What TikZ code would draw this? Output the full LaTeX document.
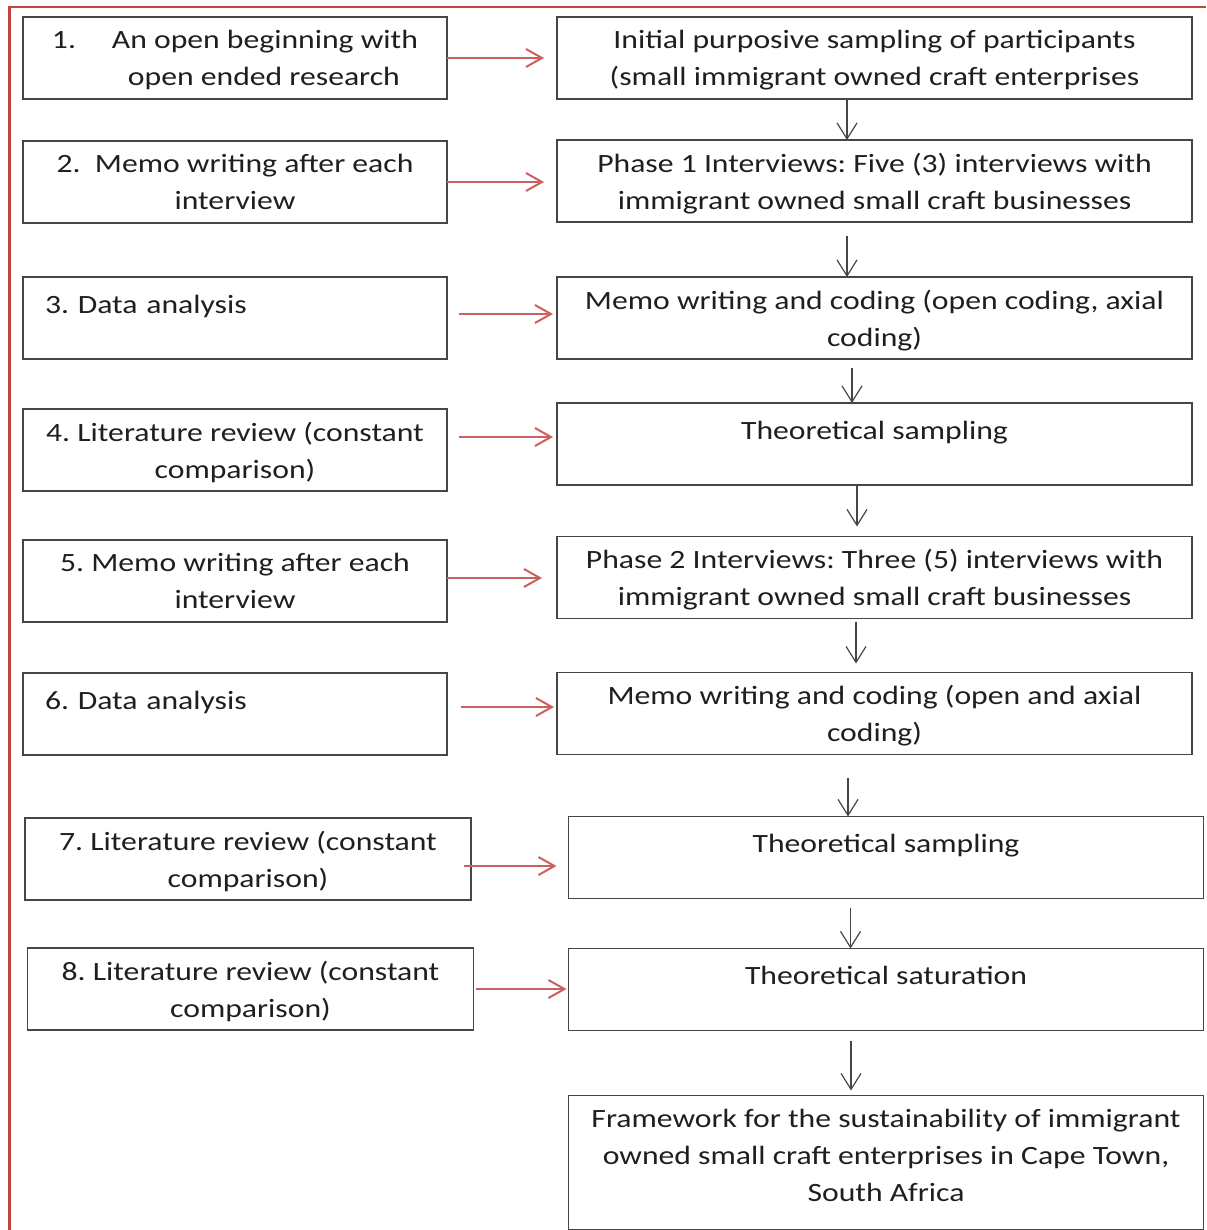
\documentclass[tikz,border=0pt]{standalone}
\usepackage{fontspec}
\setmainfont{Carlito}[FakeStretch=1.2]
\usepackage{xcolor}
\usepackage{tikz}
\usetikzlibrary{arrows.meta, positioning}
\definecolor{framered}{RGB}{196,66,62}
\definecolor{arrred}{RGB}{204,96,94}
\definecolor{boxgray}{RGB}{70,70,70}
\frenchspacing

\begin{document}
\begin{tikzpicture}[
  lbox/.style={draw=boxgray, line width=0.8pt, align=center, text=black!88,
              font=\fontsize{13.2}{18.5}\selectfont, text depth=0pt,
              minimum width=212pt, minimum height=41pt, inner sep=0pt, outer sep=0pt},
  rbox/.style={lbox, minimum width=317.5pt},
  oneline/.style={text depth=14pt},
  redarr/.style={draw=arrred, line width=1pt, -{Straight Barb[length=8pt,width=9pt]}},
  darr/.style={draw=boxgray, line width=0.6pt, -{Straight Barb[length=8pt,width=10pt]}}]
\path[use as bounding box, fill=white] (0,0) rectangle (603pt,-615pt);
\draw[framered, line width=1.2pt] (4.7pt,-615pt) -- (4.7pt,-3.4pt) -- (603pt,-3.4pt);

\node[lbox, align=left] (l1) at (117.5pt,-29pt) {\makebox[30pt][l]{1.}An open beginning with\\\hspace*{38pt}open ended research};
\node[lbox, below=21pt of l1] (l2) {2.\ \ Memo writing after each\\interview};
\node[lbox, oneline, below=27pt of l2, align=left, text width=190pt] (l3) {3. Data analysis};
\node[lbox, below=25pt of l3] (l4) {4. Literature review (constant\\comparison)};
\node[lbox, below=24.5pt of l4] (l5) {5. Memo writing after each\\interview};
\node[lbox, oneline, below=25.5pt of l5, align=left, text width=190pt] (l6) {6. Data analysis};
\node[lbox, below=31.5pt of l6, minimum width=223pt, xshift=6.5pt] (l7) {7. Literature review (constant\\comparison)};
\node[lbox, below=24pt of l7, minimum width=223pt, xshift=1.25pt] (l8) {8. Literature review (constant\\comparison)};

\node[rbox] (r1) at (437.25pt,-29pt) {Initial purposive sampling of participants\\(small immigrant owned craft enterprises};
\node[rbox, below=20.5pt of r1] (r2) {Phase 1 Interviews: Five (3) interviews with\\immigrant owned small craft businesses};
\node[rbox, below=27.5pt of r2] (r3) {Memo writing and coding (open coding, axial\\coding)};
\node[rbox, oneline, below=22pt of r3] (r4) {Theoretical sampling};
\node[rbox, below=25.75pt of r4] (r5) {Phase 2 Interviews: Three (5) interviews with\\immigrant owned small craft businesses};
\node[rbox, below=27pt of r5] (r6) {Memo writing and coding (open and axial\\coding)};
\node[rbox, oneline, below=31pt of r6, xshift=5.75pt] (r7) {Theoretical sampling};
\node[rbox, oneline, below=25pt of r7] (r8) {Theoretical saturation};
\node[rbox, below=32.5pt of r8, minimum height=67pt, text depth=7pt] (r9) {Framework for the sustainability of immigrant\\owned small craft enterprises in Cape Town,\\South Africa};

\draw[redarr, shorten >=6.5pt] (l1.east) -- (l1.east -| r1.west);
\draw[redarr, shorten >=6.5pt] (l2.east) -- (l2.east -| r2.west);
\draw[redarr, shorten <=6pt, shorten >=2pt] ([yshift=2pt]l3.east) -- ([yshift=2pt]l3.east -| r3.west);
\draw[redarr, shorten <=6pt, shorten >=2pt] ([yshift=6.5pt]l4.east) -- ([yshift=6.5pt]l4.east -| r4.west);
\draw[redarr, shorten >=7.5pt] ([yshift=1.5pt]l5.east) -- ([yshift=1.5pt]l5.east -| r5.west);
\draw[redarr, shorten <=7pt, shorten >=1.5pt] ([yshift=3.5pt]l6.east) -- ([yshift=3.5pt]l6.east -| r6.west);
\draw[redarr, shorten <=-3.5pt, shorten >=6pt] ([yshift=-3.5pt]l7.east) -- ([yshift=-3.5pt]l7.east -| r7.west);
\draw[redarr, shorten <=1pt, shorten >=1pt] (l8.east) -- (l8.east -| r8.west);

\draw[darr] ([xshift=-13.75pt]r1.south) -- ([xshift=-13.75pt]r1.south |- r2.north);
\draw[darr, shorten <=7pt] ([xshift=-13.75pt]r2.south) -- ([xshift=-13.75pt]r2.south |- r3.north);
\draw[darr, shorten <=4.5pt] ([xshift=-11.25pt]r3.south) -- ([xshift=-11.25pt]r3.south |- r4.north);
\draw[darr, shorten >=5pt] ([xshift=-8.75pt]r4.south) -- ([xshift=-8.75pt]r4.south |- r5.north);
\draw[darr, shorten <=1.5pt, shorten >=4.5pt] ([xshift=-9.25pt]r5.south) -- ([xshift=-9.25pt]r5.south |- r6.north);
\draw[darr, shorten <=11.5pt] ([xshift=-13.25pt]r6.south) -- ([xshift=-13.25pt]r6.south |- r7.north);
\draw[darr, shorten <=4.5pt] ([xshift=-17.75pt]r7.south) -- ([xshift=-17.75pt]r7.south |- r8.north);
\draw[darr, shorten <=5pt, shorten >=2.5pt] ([xshift=-17.5pt]r8.south) -- ([xshift=-17.5pt]r8.south |- r9.north);
\end{tikzpicture}
\end{document}
